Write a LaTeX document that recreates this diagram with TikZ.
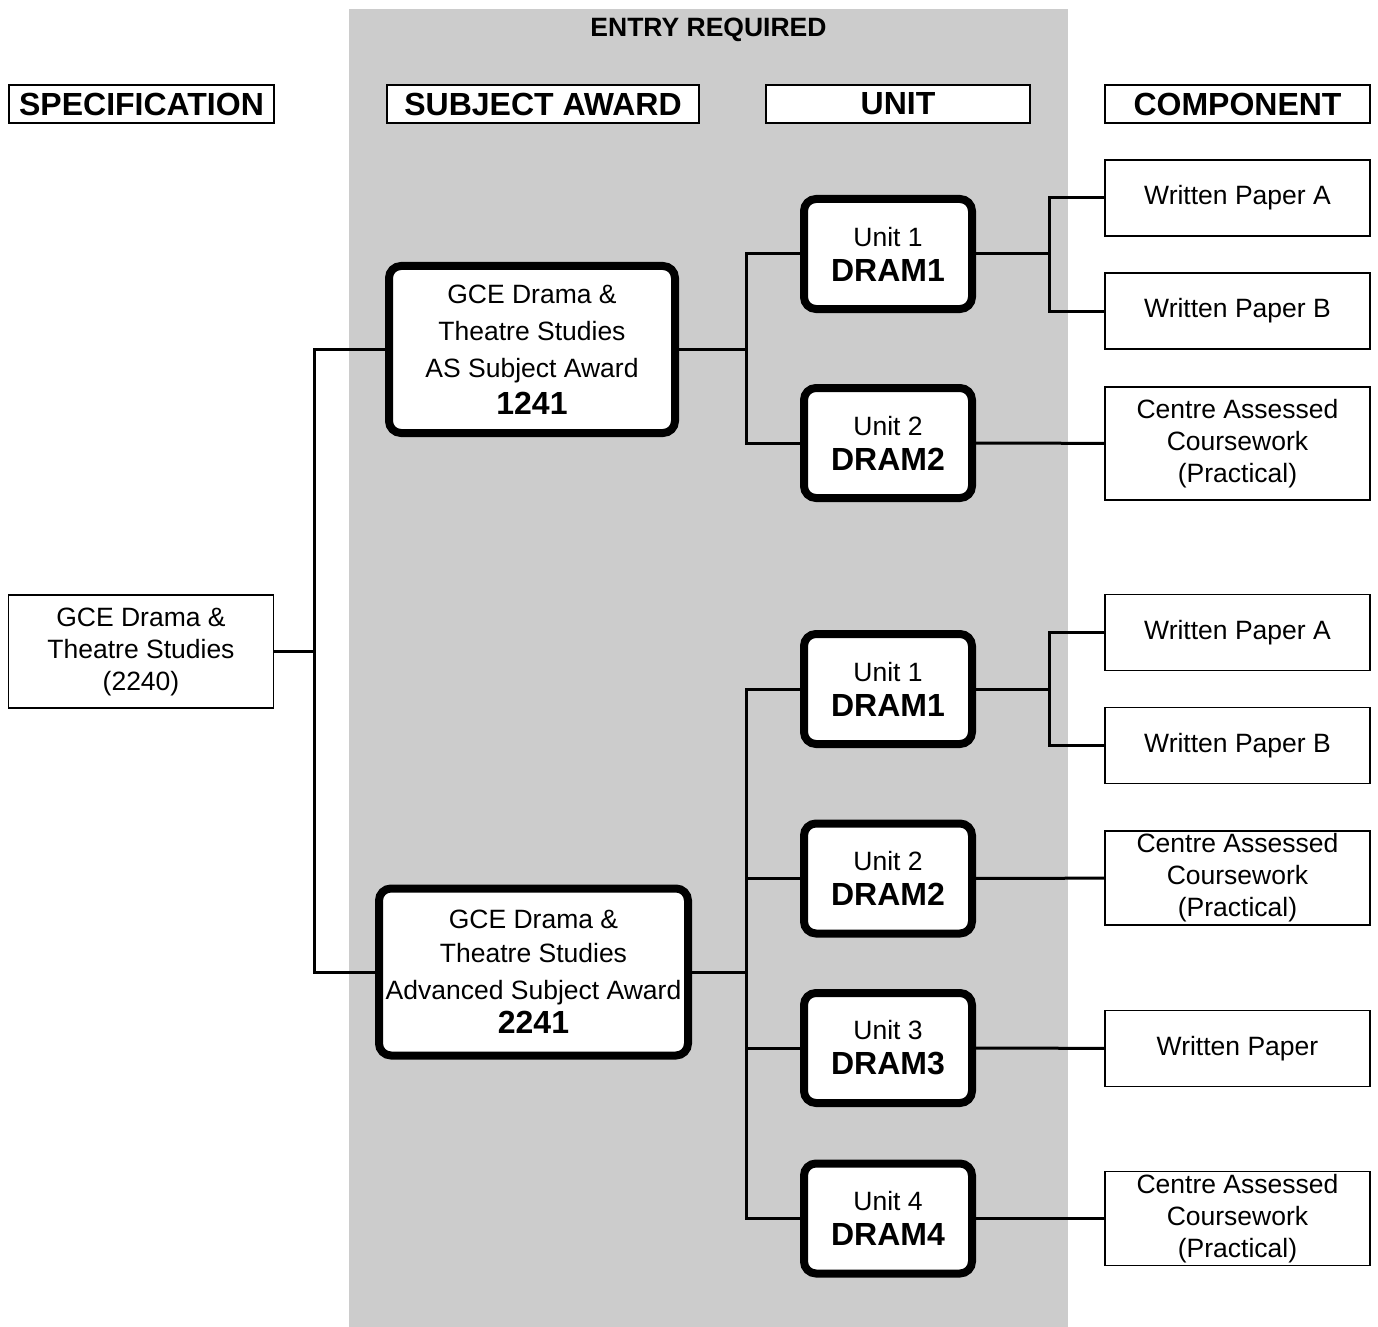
\documentclass[tikz,border=0pt]{standalone}
\usepackage{fontspec}
\setmainfont{Liberation Sans}
\usepackage{tikz}
\usetikzlibrary{positioning}
\tikzstyle{head}=[draw,line width=0.6pt,minimum height=19pt,inner sep=0pt,font=\bfseries\fontsize{16}{19}\selectfont]
\tikzstyle{comp}=[draw,line width=0.6pt,fill=white,minimum width=132.5pt,inner sep=0pt,align=center,font=\fontsize{13.25}{16}\selectfont]
\tikzstyle{unitbox}=[draw,line width=4pt,rounded corners=6pt,fill=white,minimum width=84pt,minimum height=55pt,inner sep=0pt,align=center,font=\fontsize{13.25}{17.5}\selectfont]
\tikzstyle{award}=[draw,line width=4pt,rounded corners=6pt,fill=white,minimum height=83.5pt,inner sep=0pt,align=center,font=\fontsize{13.25}{18.5}\selectfont]
\tikzstyle{edge} = [draw,line width=1.5pt,-]
\newcommand{\code}[1]{{\bfseries\fontsize{16}{18}\selectfont #1}}

\begin{document}
\begin{tikzpicture}[x=0.5pt,y=-0.5pt]
        \useasboundingbox (0,0) rectangle (1378,1327);
        \fill[black!20] (349,9) rectangle (1068,1327);
        \node[font=\bfseries\fontsize{13.25}{16}\selectfont] (entry) at (708.5,30) {ENTRY REQUIRED};
        % column headings
        \node[head,minimum width=132.5pt] (hspec) at (141.5,104) {SPECIFICATION};
        \node[head,minimum width=156pt,fill=white] (haward) at (543,104) {SUBJECT AWARD};
        \node[head,minimum width=132pt,fill=white] (hunit) at (898,104) {UNIT};
        \node[head,minimum width=132.5pt] (hcomp) at (1237.5,104) {COMPONENT};
        % specification and awards
        \node[comp,minimum height=56.5pt] (spec) at (141,651.5) {GCE Drama \&\\Theatre Studies\\(2240)};
        \node[award,minimum width=143pt] (as) at (532,349.5) {GCE Drama \&\\Theatre Studies\\AS Subject Award\\\code{1241}};
        \node[award,minimum width=154.5pt,font=\fontsize{13.25}{17}\selectfont] (adv) at (533.5,972) {GCE Drama \&\\Theatre Studies\\[1.5pt]Advanced Subject Award\\\code{2241}};
        % units
        \node[unitbox] (u1) at (888,254) {Unit 1\\\code{DRAM1}};
        \node[unitbox] (u2) at (888,443) {Unit 2\\\code{DRAM2}};
        \node[unitbox] (v1) at (888,689) {Unit 1\\\code{DRAM1}};
        \node[unitbox] (v2) at (888,878.5) {Unit 2\\\code{DRAM2}};
        \node[unitbox] (v3) at (888,1048) {Unit 3\\\code{DRAM3}};
        \node[unitbox] (v4) at (888,1218.5) {Unit 4\\\code{DRAM4}};
        % components
        \node[comp,minimum height=38pt] (wa) at (1237.5,198) {Written Paper A};
        \node[comp,minimum height=38pt] (wb) at (1237.5,311) {Written Paper B};
        \node[comp,minimum height=56.5pt] (ca) at (1237.5,443.5) {Centre Assessed\\Coursework\\(Practical)};
        \node[comp,minimum height=38pt] (xa) at (1237.5,632.5) {Written Paper A};
        \node[comp,minimum height=38pt] (xb) at (1237.5,745.5) {Written Paper B};
        \node[comp,minimum height=47pt] (xc) at (1237.5,878) {Centre Assessed\\Coursework\\(Practical)};
        \node[comp,minimum height=38pt] (xw) at (1237.5,1048.5) {Written Paper};
        \node[comp,minimum height=47pt] (xd) at (1237.5,1218.5) {Centre Assessed\\Coursework\\(Practical)};
        % junctions
        \coordinate (js) at (314,651.5);
        \coordinate (ja) at (746,349.5);
        \coordinate (jb) at (746,972);
        \coordinate (jc) at (1049,254);
        \coordinate (jd) at (1049,689);
        % connectors
        \draw[edge] (spec) -- (js);
        \draw[edge] (as.west) -- (as.west -| js) -- (adv.west -| js) -- (adv.west);
        \draw[edge] (as) -- (ja);
        \draw[edge] (u1.west) -- (u1.west -| ja) -- (u2.west -| ja) -- (u2.west);
        \draw[edge] (adv) -- (jb);
        \draw[edge] (v1.west) -- (v1.west -| jb) -- (v4.west -| jb) -- (v4.west);
        \draw[edge] (v2.west -| jb) -- (v2.west);
        \draw[edge] (v3.west -| jb) -- (v3.west);
        \draw[edge] (u1) -- (jc);
        \draw[edge] (wa.west) -- (wa.west -| jc) -- (wb.west -| jc) -- (wb.west);
        \draw[edge] (u2) -- (ca);
        \draw[edge] (v1) -- (jd);
        \draw[edge] (xa.west) -- (xa.west -| jd) -- (xb.west -| jd) -- (xb.west);
        \draw[edge] (v2) -- (xc);
        \draw[edge] (v3) -- (xw);
        \draw[edge] (v4) -- (xd);
      \end{tikzpicture}
\end{document}
